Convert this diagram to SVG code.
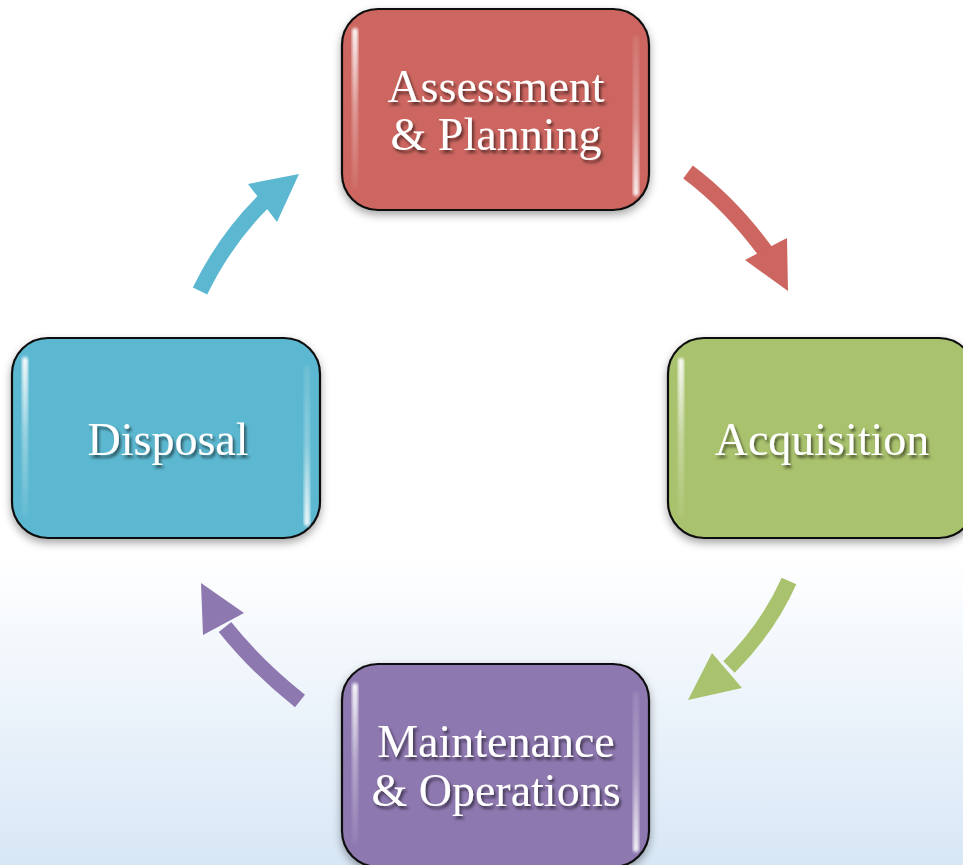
<svg xmlns="http://www.w3.org/2000/svg" width="963" height="865" viewBox="0 0 963 865">
<defs>
<linearGradient id="bg" x1="0" y1="0" x2="0" y2="1">
<stop offset="0" stop-color="#ffffff"/>
<stop offset="0.64" stop-color="#ffffff"/>
<stop offset="1" stop-color="#d8e7f6"/>
</linearGradient>
<linearGradient id="hl" x1="0" y1="0" x2="0" y2="1">
<stop offset="0" stop-color="#fff" stop-opacity="0.95"/>
<stop offset="0.5" stop-color="#fff" stop-opacity="0.35"/>
<stop offset="1" stop-color="#fff" stop-opacity="0.05"/>
</linearGradient>
<linearGradient id="hr" x1="0" y1="0" x2="0" y2="1">
<stop offset="0" stop-color="#fff" stop-opacity="0.1"/>
<stop offset="0.5" stop-color="#fff" stop-opacity="0.3"/>
<stop offset="1" stop-color="#fff" stop-opacity="0.9"/>
</linearGradient>
<filter id="boxsh" x="-10%" y="-10%" width="120%" height="125%">
<feDropShadow dx="0" dy="4" stdDeviation="4" flood-color="#000" flood-opacity="0.35"/>
</filter>
<filter id="txtsh" x="-10%" y="-20%" width="120%" height="150%">
<feDropShadow dx="2" dy="3" stdDeviation="1.8" flood-color="#000" flood-opacity="0.55"/>
</filter>
<filter id="blur1"><feGaussianBlur stdDeviation="1.4"/></filter>
</defs>
<style>
.box{stroke:#111;stroke-width:2.2}
.lbl{font-family:"Liberation Serif","Times New Roman",serif;font-size:46px;fill:#fff;text-anchor:middle;filter:url(#txtsh)}
.shaft{fill:none;stroke-width:16;stroke-linecap:butt}
</style>
<rect x="0" y="0" width="963" height="865" fill="url(#bg)"/>

<g id="connectors">
<g id="c-assess-acq" fill="#cd6660" stroke="#cd6660">
<path class="shaft" d="M688,172 Q732,205 768,255"/>
<polygon stroke="none" points="745,260 787,238 788,291"/>
</g>
<g id="c-acq-maint" fill="#a9c26d" stroke="#a9c26d">
<path class="shaft" d="M789,581 Q768,628 729,667"/>
<polygon stroke="none" points="712,653 742,688 688,700"/>
</g>
<g id="c-maint-disp" fill="#8e78b0" stroke="#8e78b0">
<path class="shaft" d="M300,701 Q256,666 225,627"/>
<polygon stroke="none" points="201,583 244,613 203,635"/>
</g>
<g id="c-disp-assess" fill="#5bb8d0" stroke="#5bb8d0">
<path class="shaft" d="M200,291 Q226,238 264,201"/>
<polygon stroke="none" points="248,184 299,174 277,222"/>
</g>
</g>

<g id="n-assessment">
<rect class="box" x="342" y="9" width="307" height="201" rx="36" fill="#cd6660" filter="url(#boxsh)"/>
<rect x="352" y="28" width="6" height="160" rx="3" fill="url(#hl)" filter="url(#blur1)"/>
<rect x="633" y="36" width="6" height="160" rx="3" fill="url(#hr)" filter="url(#blur1)"/>
<text class="lbl" x="496" y="102">Assessment</text>
<text class="lbl" x="496" y="150">&amp; Planning</text>
</g>

<g id="n-acquisition">
<rect class="box" x="668" y="338" width="307" height="200" rx="36" fill="#a9c26d" filter="url(#boxsh)"/>
<rect x="678" y="358" width="6" height="160" rx="3" fill="url(#hl)" filter="url(#blur1)"/>
<text class="lbl" x="822" y="455">Acquisition</text>
</g>

<g id="n-maintenance">
<rect class="box" x="342" y="664" width="307" height="203" rx="36" fill="#8e78b0" filter="url(#boxsh)"/>
<rect x="352" y="683" width="6" height="160" rx="3" fill="url(#hl)" filter="url(#blur1)"/>
<rect x="633" y="692" width="6" height="160" rx="3" fill="url(#hr)" filter="url(#blur1)"/>
<text class="lbl" x="496" y="757">Maintenance</text>
<text class="lbl" x="496" y="806">&amp; Operations</text>
</g>

<g id="n-disposal">
<rect class="box" x="12" y="338" width="308" height="200" rx="36" fill="#5bb8d0" filter="url(#boxsh)"/>
<rect x="22" y="357" width="6" height="160" rx="3" fill="url(#hl)" filter="url(#blur1)"/>
<rect x="304" y="366" width="6" height="160" rx="3" fill="url(#hr)" filter="url(#blur1)"/>
<text class="lbl" x="168" y="455">Disposal</text>
</g>
</svg>
